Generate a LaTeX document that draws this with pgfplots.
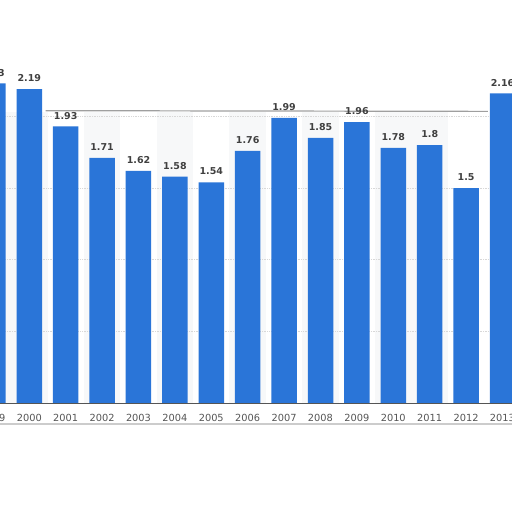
\documentclass[border=0pt]{standalone}
\usepackage{pgfplots}
\pgfplotsset{compat=1.18}
\usepackage{fontspec}
\setmainfont{DejaVu Sans}
\definecolor{barblue}{HTML}{2A75D8}
\definecolor{lblgray}{HTML}{404040}
\definecolor{tickgray}{HTML}{555555}
\definecolor{gridg}{HTML}{D8D8D8}
\definecolor{bgg}{HTML}{F7F8F9}
\begin{document}
\begin{tikzpicture}
\useasboundingbox (0,0) rectangle (512pt,512pt);
\clip (0,0) rectangle (512pt,512pt);
\begin{axis}[
  at={(-25.3pt,109pt)}, anchor=south west,
  scale only axis, width=537.3pt, height=403pt,
  xmin=1998.5, xmax=2013.261,
  ymin=0, ymax=2.8123,
  axis line style={draw=none},
  major tick length=0pt,
  xtick={1999,...,2013},
  xticklabel style={font=\fontsize{9.8}{11}\selectfont, text=tickgray, yshift=-8pt},
  x tick label style={/pgf/number format/1000 sep={}},
  ytick=\empty,
  /pgf/number format/assume math mode=true,
  clip=false,
]
% background panel
\fill[bgg] (axis cs:1998.5,0) rectangle (axis cs:2013.261,2.03);
\foreach \k in {2001,2003,...,2009} {
  \edef\tmp{\noexpand\fill[white] (axis cs:\k-0.5,0) rectangle (axis cs:\k+0.5,2.03);}
  \tmp
}
\fill[white] (axis cs:2011.5,0) rectangle (axis cs:2013.261,2.03);
% grid lines
\foreach \v in {0.5,1,1.5} {
  \edef\tmp{\noexpand\draw[gridg, densely dotted, line width=0.7pt] (axis cs:1998.5,\v) -- (axis cs:2013.261,\v);}
  \tmp
}
\draw[gray!75, line width=1.2pt] (axis cs:2000.45,2.04) -- (axis cs:2012.6,2.035);
\draw[gridg, densely dotted, line width=0.7pt] (axis cs:1998.5,2.0) -- (axis cs:2013.261,2.0);
% bottom shadow line
\draw[gray!40, line width=1.6pt] (axis cs:1998.5,-0.147) -- (axis cs:2013.261,-0.147);
\addplot[ybar, bar width=25.5pt, fill=barblue, draw=none,
  nodes near coords,
  nodes near coords style={font=\bfseries\fontsize{9.5}{11}\selectfont, text=lblgray, inner sep=0pt, anchor=south, yshift=7pt},
  point meta=explicit symbolic]
 table[meta=lab] {
x y lab
1999 2.23 2.23
2000 2.19 2.19
2001 1.93 1.93
2002 1.71 1.71
2003 1.62 1.62
2004 1.58 1.58
2005 1.54 1.54
2006 1.76 1.76
2007 1.99 1.99
2008 1.85 1.85
2009 1.96 1.96
2010 1.78 1.78
2011 1.8 1.8
2012 1.5 1.5
2013 2.16 2.16
};
\draw[tickgray, line width=0.6pt] (axis cs:1998.5,0) -- (axis cs:2013.261,0);
\end{axis}
\end{tikzpicture}
\end{document}
